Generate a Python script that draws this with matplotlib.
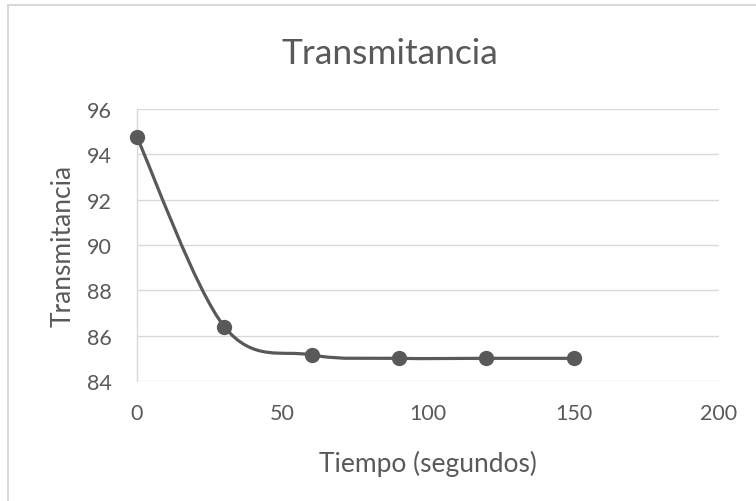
import numpy as np
import matplotlib
matplotlib.use("Agg")
import matplotlib.pyplot as plt
from matplotlib.path import Path
from matplotlib.patches import PathPatch, Rectangle

tiempo = [0, 30, 60, 90, 120, 150]
transmitancia = [94.75, 86.4, 85.15, 85.0, 85.0, 85.0]
x_ticks = [0, 50, 100, 150, 200]
y_ticks = [84, 86, 88, 90, 92, 94, 96]

GRAY = "#595959"
plt.rcParams['font.family'] = ['Lato', 'DejaVu Sans']

fig = plt.figure(figsize=(7.56, 5.02), dpi=100)
W, H = 756, 502
ax = fig.add_axes([137 / W, 1 - 382 / H, (719 - 137) / W, (382 - 110) / H])

ax.set_xlim(0, 200)
ax.set_ylim(84, 96)
ax.set_xticks(x_ticks)
ax.set_yticks(y_ticks)
ax.grid(axis='y', color='#d9d9d9', linewidth=1.0)
ax.set_axisbelow(True)
for s in ['top', 'right', 'bottom']:
    ax.spines[s].set_visible(False)
ax.spines['left'].set_color('#d9d9d9')
ax.spines['left'].set_linewidth(1.0)
ax.tick_params(axis='both', length=0, colors=GRAY, labelsize=15.5)
ax.tick_params(axis='y', pad=18)
ax.tick_params(axis='x', pad=16)

# Excel-like smoothed line: cubic Bezier (Catmull-Rom) computed in display space
pts = ax.transData.transform(np.column_stack([tiempo, transmitancia]))
n = len(pts)
verts = [pts[0]]
codes = [Path.MOVETO]
for i in range(n - 1):
    p0 = pts[i - 1] if i > 0 else pts[i]
    p1 = pts[i]
    p2 = pts[i + 1]
    p3 = pts[i + 2] if i + 2 < n else pts[i + 1]
    c1 = p1 + (p2 - p0) / 6.0
    c2 = p2 - (p3 - p1) / 6.0
    verts += [c1, c2, p2]
    codes += [Path.CURVE4] * 3
verts_data = ax.transData.inverted().transform(np.array(verts))
ax.add_patch(PathPatch(Path(verts_data, codes), facecolor='none', edgecolor=GRAY,
                       linewidth=2.3, capstyle='round', joinstyle='round', zorder=3))
ax.plot(tiempo, transmitancia, linestyle='none', marker='o', markersize=10,
        color=GRAY, zorder=4, clip_on=False)

fig.text(390 / W, 1 - 54 / H, 'Transmitancia', fontsize=25.5, color=GRAY,
         ha='center', va='center')
ax.set_xlabel('Tiempo (segundos)', fontsize=19, color=GRAY, labelpad=19)
ax.set_ylabel('Transmitancia', fontsize=19, color=GRAY, labelpad=8)

fig.patches.append(Rectangle((8 / W, -0.1), 2.0, 1 - 6 / H + 0.1, transform=fig.transFigure,
                             facecolor='none', edgecolor='#d9d9d9', linewidth=1.5))

fig.savefig('out.png', dpi=100)
